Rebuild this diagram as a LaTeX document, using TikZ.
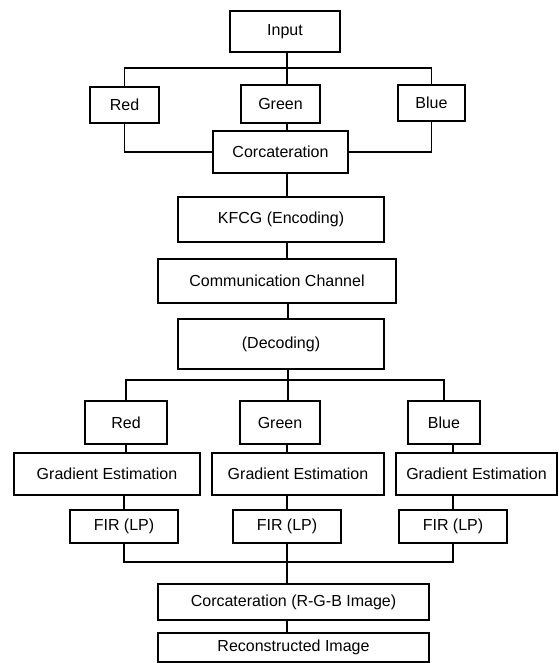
\documentclass[tikz,border=0pt]{standalone}
\usepackage{fontspec}
\setmainfont{Liberation Sans}
\usepackage{tikz}

\begin{document}
\begin{tikzpicture}[x=1pt, y=-1pt, line width=1.4pt,
    blk/.style={draw, inner sep=0pt, font=\fontsize{16}{19}\selectfont}]
    \useasboundingbox (0,0) rectangle (558,663);

		% encoder side
		\node[blk, minimum width=110pt, minimum height=41pt] (input) at (285,31.5) {Input};
		\node[blk, minimum width=69pt, minimum height=36pt] (redA) at (124.5,105) {Red};
		\node[blk, minimum width=79pt, minimum height=38pt] (greenA) at (280.5,104) {Green};
		\node[blk, minimum width=67pt, minimum height=36pt] (blueA) at (431.5,103) {Blue};
		\node[blk, minimum width=135pt, minimum height=42pt] (concatA) at (280.5,152) {Corcateration};
		\node[blk, minimum width=206pt, minimum height=45pt] (kfcg) at (281,219.5) {KFCG (Encoding)};
		\node[blk, minimum width=238pt, minimum height=44pt] (chan) at (277,281) {Communication Channel};
		\node[blk, minimum width=206pt, minimum height=50pt] (dec) at (281,344) {(Decoding)};

		% decoder side
		\node[blk, minimum width=82pt, minimum height=43pt] (redB) at (126,422.5) {Red};
		\node[blk, minimum width=80pt, minimum height=43pt] (greenB) at (280,422.5) {Green};
		\node[blk, minimum width=72pt, minimum height=43pt] (blueB) at (444,422.5) {Blue};
		\node[blk, minimum width=186pt, minimum height=42pt] (gradR) at (107,474) {Gradient Estimation};
		\node[blk, minimum width=172pt, minimum height=42pt] (gradG) at (298,474) {Gradient Estimation};
		\node[blk, minimum width=161pt, minimum height=42pt] (gradB) at (476.5,474) {Gradient Estimation};
		\node[blk, minimum width=108pt, minimum height=33pt] (firR) at (124,526.5) {FIR (LP)};
		\node[blk, minimum width=108pt, minimum height=33pt] (firG) at (287,526.5) {FIR (LP)};
		\node[blk, minimum width=108pt, minimum height=33pt] (firB) at (453,526.5) {FIR (LP)};
		\node[blk, minimum width=271pt, minimum height=36pt] (concatB) at (293.5,602) {Corcateration (R-G-B Image)};
		\node[blk, minimum width=271pt, minimum height=29pt] (recon) at (293.5,647.5) {Reconstructed Image};

		\coordinate (spine) at (287,0);
		\coordinate (splitA) at (287,68);
		\coordinate (splitB) at (288,380);
		\coordinate (joinC) at (287,562);

		\draw (input.south -| splitA) -- (splitA);
		\draw (redA.north) |- (splitA) -| (blueA.north);
		\draw (splitA) -- (greenA.north -| splitA);
		\draw (redA.south) |- (concatA.west);
		\draw (blueA.south) |- (concatA.east);
		\draw (greenA.south -| spine) -- (concatA.north -| spine);
		\draw (concatA.south -| spine) -- (kfcg.north -| spine);
		\draw (kfcg.south -| spine) -- (chan.north -| spine);
		\draw (chan.south -| splitB) -- (dec.north -| splitB);
		\draw (dec.south -| splitB) -- (splitB);
		\draw (redB.north) |- (splitB) -| (blueB.north);
		\draw (splitB) -- (greenB.north -| splitB);

		\draw (redB.south) -- (redB.south |- gradR.north);
		\draw (greenB.south -| firG) -- (gradG.north -| firG);
		\draw (blueB.south -| firB) -- (gradB.north -| firB);
		\draw (gradR.south -| firR) -- (firR.north);
		\draw (gradG.south -| firG) -- (firG.north);
		\draw (gradB.south -| firB) -- (firB.north);

		\draw (firR.south) |- (joinC) -| (firB.south);
		\draw (firG.south) -- (concatB.north -| firG);
		\draw (concatB.south -| firG) -- (recon.north -| firG);
\end{tikzpicture}
\end{document}
